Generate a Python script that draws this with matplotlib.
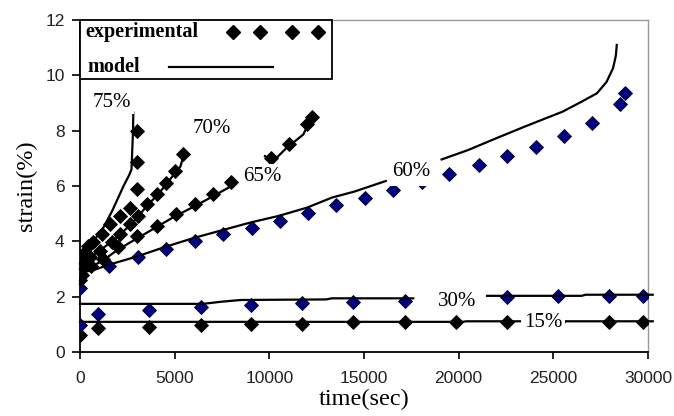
import numpy as np
import matplotlib
matplotlib.use("Agg")
import matplotlib.pyplot as plt
from matplotlib.patches import Rectangle
from matplotlib.lines import Line2D

# ---------------- data ----------------
exp15_t = [0, 970, 3650, 6370, 9050, 11740, 14430, 17160, 19860, 22540, 25230, 27940, 29750]
exp15_y = [0.60, 0.86, 0.92, 0.98, 1.02, 1.03, 1.07, 1.07, 1.07, 1.08, 1.08, 1.09, 1.09]

exp30_t = [0, 970, 3650, 6370, 9050, 11740, 14430, 17160, 19860, 22540, 25230, 27940, 29750]
exp30_y = [0.96, 1.38, 1.52, 1.62, 1.70, 1.76, 1.81, 1.83, 1.92, 1.98, 2.01, 2.03, 2.04]

exp60_t = [0, 1520, 3060, 4540, 6070, 7570, 9060, 10550, 12040, 13540, 15040, 16550,
           18080, 19500, 21070, 22570, 24070, 25560, 27020, 28520, 28790]
exp60_y = [2.30, 3.12, 3.45, 3.72, 4.02, 4.28, 4.47, 4.72, 5.04, 5.31, 5.58, 5.86,
           6.16, 6.45, 6.75, 7.08, 7.41, 7.79, 8.27, 8.96, 9.35]

exp65_t = [0, 100, 600, 1230, 2020, 2990, 4050, 5080, 6060, 7040, 8000, 10080, 11030, 11980, 12240]
exp65_y = [2.60, 2.80, 3.10, 3.36, 3.78, 4.18, 4.56, 4.98, 5.36, 5.72, 6.14, 7.01, 7.52, 8.25, 8.51]

exp70_t = [0, 250, 550, 1060, 1670, 2110, 2640, 3080, 3540, 4080, 4560, 5020, 5440]
exp70_y = [3.00, 3.30, 3.42, 3.66, 3.96, 4.26, 4.62, 4.92, 5.34, 5.70, 6.12, 6.55, 7.17]

exp75_t = [0, 180, 440, 700, 1150, 1590, 2110, 2620, 2990, 2990, 2990]
exp75_y = [3.18, 3.54, 3.84, 3.96, 4.26, 4.62, 4.92, 5.22, 5.88, 6.87, 7.98]

mod15_t = [0, 20200, 20400, 30250]
mod15_y = [1.09, 1.09, 1.11, 1.11]

mod30_t = [0, 6500, 7500, 8500, 13000, 13300, 17600, np.nan, 21500, 26500, 26700, 30250]
mod30_y = [1.74, 1.74, 1.82, 1.88, 1.90, 1.94, 1.94, np.nan, 2.03, 2.03, 2.07, 2.07]

mod60_t = [0, 50, 300, 800, 1500, 3000, 4500, 6000, 7500, 9000, 10500, 12000, 13300, 14500, 16150,
           np.nan, 19100, 20500, 22000, 23500, 25500, 26500, 27300, 27800, 28150, 28300, 28350]
mod60_y = [2.45, 2.75, 2.90, 2.98, 3.15, 3.45, 3.80, 4.12, 4.40, 4.68, 4.92, 5.22, 5.58, 5.80, 6.18,
           np.nan, 6.96, 7.30, 7.73, 8.15, 8.69, 9.05, 9.35, 9.75, 10.25, 10.70, 11.10]

mod65_t = [0, 100, 500, 1200, 2000, 3000, 4000, 5000, 6000, 7000, 8000, 8190,
           np.nan, 9770, 10210, 10900, 11790, 12050, 12410]
mod65_y = [2.60, 2.85, 3.05, 3.30, 3.70, 4.10, 4.50, 4.90, 5.25, 5.62, 6.00, 6.06,
           np.nan, 7.08, 6.90, 7.37, 7.86, 8.22, 8.58]

mod70_t = [0, 200, 600, 1100, 1700, 2200, 2700, 3100, 3550, 4100, 4600, 5050, 5300, 5450]
mod70_y = [3.00, 3.30, 3.45, 3.70, 4.00, 4.30, 4.62, 4.92, 5.30, 5.68, 6.10, 6.50, 6.70, 7.05]

mod75_t = [0, 200, 700, 1200, 1700, 2300, 2600, 2720, 2760, 2800, 2815]
mod75_y = [3.20, 3.62, 4.00, 4.45, 5.10, 6.00, 6.40, 6.60, 7.30, 8.00, 8.65]

labels = ["75%", "70%", "65%", "60%", "30%", "15%"]
label_t = [1690, 6970, 9640, 17480, 19910, 24450]
label_y = [9.03, 8.08, 6.36, 6.54, 1.81, 1.05]
label_pad = [0.12, 0.12, 0.12, 0.25, 0.12, 0.12]

xticks = [0, 5000, 10000, 15000, 20000, 25000, 30000]
yticks = [0, 2, 4, 6, 8, 10, 12]

# ---------------- figure ----------------
fig = plt.figure(figsize=(6.74, 4.16), dpi=100)
ax = fig.add_axes([80 / 674, 1 - 352 / 416, 568 / 674, 332 / 416])

black = "#000000"
navy = "#000080"
ms = 7

for t, y, c in [(exp15_t, exp15_y, black), (exp30_t, exp30_y, navy), (exp60_t, exp60_y, navy),
                (exp65_t, exp65_y, black), (exp70_t, exp70_y, black), (exp75_t, exp75_y, black)]:
    ax.plot(t, y, linestyle="none", marker="D", ms=ms, mfc=c, mec="#000020" if c == navy else c,
            mew=0.6, zorder=3)

for t, y in [(mod15_t, mod15_y), (mod30_t, mod30_y), (mod60_t, mod60_y),
             (mod65_t, mod65_y), (mod70_t, mod70_y), (mod75_t, mod75_y)]:
    ax.plot(t, y, color="black", lw=1.6, zorder=4, clip_on=False)

for s, tx, ty, p in zip(labels, label_t, label_y, label_pad):
    ax.text(tx, ty, s, family="Liberation Serif", fontsize=15, ha="center", va="center",
            zorder=6, bbox=dict(boxstyle=f"square,pad={p}", fc="white", ec="none"))

ax.set_xlim(0, 30000)
ax.set_ylim(0, 12)
ax.set_xticks(xticks)
ax.set_yticks(yticks)
ax.set_xticklabels([str(v) for v in xticks], family="Liberation Sans", fontsize=12.5)
ax.set_yticklabels([str(v) for v in yticks], family="Liberation Sans", fontsize=12.5)
ax.tick_params(axis="y", direction="out", length=6, width=1.2, pad=5, colors="black")
ax.tick_params(axis="x", direction="out", length=5, width=1.2, pad=9, colors="black")
ax.tick_params(axis="both", labelcolor="#222222")

for side in ["left", "bottom"]:
    ax.spines[side].set_color("black")
    ax.spines[side].set_linewidth(1.3)
for side in ["top", "right"]:
    ax.spines[side].set_color("#999999")
    ax.spines[side].set_linewidth(1.0)

ax.set_xlabel("time(sec)", family="Liberation Serif", fontsize=17.5, labelpad=2)
ax.set_ylabel("strain(%)", family="Liberation Serif", fontsize=17.5, labelpad=6)

# ---------------- hand-drawn style legend box ----------------
leg_x1 = 252 / 568
leg_y0 = 1 - 59 / 332
ax.add_patch(Rectangle((0, leg_y0), leg_x1, 1 - leg_y0, transform=ax.transAxes,
                       fc="white", ec="black", lw=1.3, zorder=10, clip_on=False))
ax.text(5 / 568, 1 - 12 / 332, "experimental", transform=ax.transAxes, family="Liberation Serif",
        fontweight="bold", fontsize=14.5, ha="left", va="center", zorder=11)
ax.text(7 / 568, 1 - 47 / 332, "model", transform=ax.transAxes, family="Liberation Serif",
        fontweight="bold", fontsize=14.5, ha="left", va="center", zorder=11)
leg_marker_x = [153 / 568, 180 / 568, 212 / 568, 238 / 568]
ax.add_line(Line2D(leg_marker_x, [1 - 12 / 332] * 4, transform=ax.transAxes, linestyle="none",
                   marker="D", ms=ms, color="black", zorder=11, clip_on=False))
ax.add_line(Line2D([89 / 568, 193 / 568], [1 - 47 / 332] * 2, transform=ax.transAxes,
                   color="black", lw=1.6, zorder=11, clip_on=False))

fig.savefig("out.png", dpi=100)
